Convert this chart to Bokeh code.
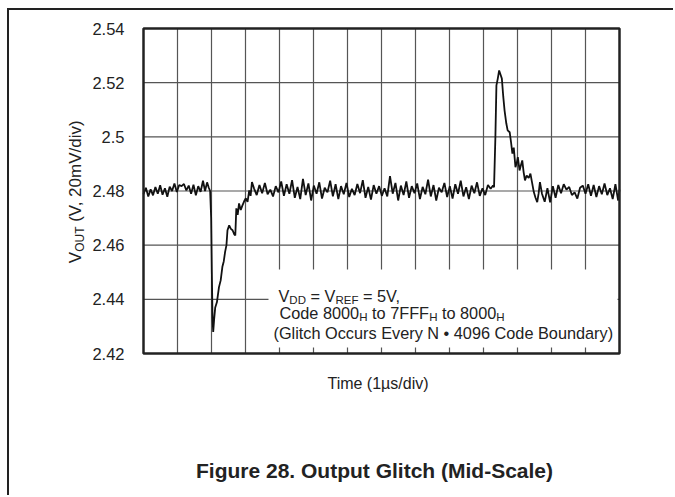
import math
from bokeh.plotting import figure
from bokeh.models import Range1d, FixedTicker, Label
from bokeh.embed import file_html
from bokeh.resources import INLINE

# ---------------- data ----------------
y_ticks = [2.42, 2.44, 2.46, 2.48, 2.50, 2.52, 2.54]
y_tick_labels = ["2.42", "2.44", "2.46", "2.48", "2.5", "2.52", "2.54"]
x_divisions = [0, 1, 2, 3, 4, 5, 6, 7, 8, 9, 10, 11, 12, 13, 14]  # 1 us / div

time_us = [
    0.00, 0.07, 0.14, 0.21, 0.28, 0.35, 0.42, 0.49, 0.56, 0.63, 0.70, 0.77, 0.84, 0.91, 0.98,
    1.05, 1.12, 1.19, 1.26, 1.33, 1.40, 1.47, 1.54, 1.61, 1.68, 1.75, 1.81, 1.87, 1.92,
    1.96, 1.99, 2.01, 2.03, 2.05, 2.08, 2.11, 2.16, 2.22, 2.27, 2.32, 2.36, 2.40, 2.44, 2.47,
    2.52, 2.57, 2.62, 2.67, 2.70, 2.73, 2.77, 2.81, 2.86, 2.91, 2.96, 3.01, 3.06, 3.11, 3.15, 3.19,
    3.25, 3.33, 3.41, 3.49, 3.57, 3.65, 3.73, 3.81, 3.89, 3.97, 4.05, 4.13, 4.21, 4.29, 4.37,
    4.45, 4.53, 4.61, 4.69, 4.77, 4.85, 4.93, 5.01, 5.09, 5.17, 5.25, 5.33, 5.41, 5.49, 5.57,
    5.65, 5.73, 5.81, 5.89, 5.97, 6.05, 6.13, 6.21, 6.29, 6.37, 6.45, 6.53, 6.61, 6.69, 6.77,
    6.85, 6.93, 7.01, 7.09, 7.17, 7.25, 7.33, 7.41, 7.49, 7.57, 7.65, 7.73, 7.81, 7.89, 7.97,
    8.05, 8.13, 8.21, 8.29, 8.37, 8.45, 8.53, 8.61, 8.69, 8.77, 8.85, 8.93, 9.01, 9.09, 9.17,
    9.25, 9.33, 9.41, 9.49, 9.57, 9.65, 9.73, 9.81, 9.89, 9.97, 10.05, 10.13, 10.21,
    10.28, 10.31, 10.35, 10.38, 10.42, 10.46, 10.50, 10.54, 10.58, 10.62, 10.67, 10.71, 10.77,
    10.81, 10.85, 10.89, 10.94, 10.98, 11.01, 11.06, 11.10, 11.14, 11.18, 11.22, 11.27, 11.33,
    11.38, 11.43, 11.48, 11.53, 11.58, 11.62, 11.66,
    11.72, 11.80, 11.88, 11.96, 12.04, 12.12, 12.20, 12.28, 12.36, 12.44, 12.52, 12.60, 12.68,
    12.76, 12.84, 12.92, 13.00, 13.08, 13.16, 13.24, 13.32, 13.40, 13.48, 13.56, 13.64, 13.72,
    13.80, 13.88, 13.96, 14.00,
]

vout = [
    2.4788, 2.4812, 2.4780, 2.4806, 2.4784, 2.4815, 2.4790, 2.4821, 2.4786, 2.4810, 2.4779, 2.4816, 2.4800, 2.4828, 2.4796,
    2.4822, 2.4818, 2.4826, 2.4802, 2.4820, 2.4790, 2.4823, 2.4784, 2.4818, 2.4797, 2.4838, 2.4800, 2.4832, 2.4812,
    2.4800, 2.4700, 2.4500, 2.4330, 2.4280, 2.4330, 2.4370, 2.4390, 2.4445, 2.4470, 2.4520, 2.4540, 2.4575, 2.4600, 2.4655,
    2.4673, 2.4660, 2.4655, 2.4640, 2.4636, 2.4736, 2.4712, 2.4754, 2.4730, 2.4747, 2.4762, 2.4773, 2.4760, 2.4802, 2.4782, 2.4833,
    2.4810, 2.4785, 2.4822, 2.4792, 2.4830, 2.4788, 2.4805, 2.4780, 2.4818, 2.4795, 2.4835, 2.4782, 2.4825, 2.4790, 2.4840,
    2.4775, 2.4815, 2.4770, 2.4845, 2.4785, 2.4828, 2.4765, 2.4820, 2.4790, 2.4832, 2.4772, 2.4812, 2.4795, 2.4838, 2.4780,
    2.4825, 2.4770, 2.4818, 2.4788, 2.4830, 2.4778, 2.4808, 2.4785, 2.4826, 2.4792, 2.4840, 2.4775, 2.4815, 2.4768, 2.4822,
    2.4790, 2.4818, 2.4782, 2.4810, 2.4780, 2.4855, 2.4790, 2.4830, 2.4765, 2.4820, 2.4785, 2.4835, 2.4775, 2.4818, 2.4792,
    2.4828, 2.4770, 2.4815, 2.4788, 2.4842, 2.4780, 2.4822, 2.4765, 2.4812, 2.4795, 2.4830, 2.4778, 2.4818, 2.4772, 2.4825,
    2.4790, 2.4838, 2.4780, 2.4814, 2.4770, 2.4820, 2.4792, 2.4832, 2.4782, 2.4810, 2.4785, 2.4822, 2.4808,
    2.4820, 2.4814, 2.5000, 2.5190, 2.5215, 2.5245, 2.5230, 2.5215, 2.5150, 2.5097, 2.5050, 2.5024, 2.5017,
    2.4980, 2.4938, 2.4960, 2.4888, 2.4905, 2.4925, 2.4876, 2.4895, 2.4913, 2.4870, 2.4839, 2.4857, 2.4848,
    2.4864, 2.4830, 2.4796, 2.4775, 2.4759, 2.4790, 2.4833,
    2.4790, 2.4760, 2.4810, 2.4758, 2.4818, 2.4775, 2.4822, 2.4792, 2.4825, 2.4805, 2.4815, 2.4785, 2.4795,
    2.4772, 2.4812, 2.4820, 2.4790, 2.4825, 2.4782, 2.4822, 2.4778, 2.4818, 2.4788, 2.4828, 2.4785, 2.4810,
    2.4770, 2.4825, 2.4765, 2.4805,
]

x_label_text = "Time (1\u00b5s/div)"
title_text = "Figure 28. Output Glitch (Mid-Scale)"
y_label_parts = [("V", False), ("OUT", True), (" (V, 20mV/div)", False)]
note_line1 = [("V", False), ("DD", True), (" = V", False), ("REF", True), (" = 5V,", False)]
note_line2 = [("Code 8000", False), ("H", True), (" to 7FFF", False), ("H", True), (" to 8000", False), ("H", True)]
note_line3 = "(Glitch Occurs Every N \u2022 4096 Code Boundary)"

# ---------------- layout constants ----------------
FONT = "Liberation Sans"
INK = "#222222"
X0, X1 = x_divisions[0], x_divisions[-1]
Y0, Y1 = y_ticks[0], y_ticks[-1]
# where the chart box sits on the page (pixels)
BOX_L, BOX_R, BOX_T, BOX_B = 143, 619, 28, 353
ML, MT, BW = 7, 8, 2            # css margin / border
OX, OY = ML + BW, MT + BW        # canvas origin on page
W, H = 664, 485
AXIS_W = 50
FW, FH = W - AXIS_W, H

SX = (BOX_R - BOX_L) / (X1 - X0)   # px per us
SY = (BOX_B - BOX_T) / (Y1 - Y0)   # px per volt

def px_t(px):
    return X0 + (px - BOX_L) / SX

def py_v(py):
    return Y1 - (py - BOX_T) / SY

x_start = px_t(OX + AXIS_W)
x_end = px_t(OX + W)
y_end = py_v(OY)
y_start = py_v(OY + H)

# Arial / Liberation Sans advance widths (per 1000 em)
AW = {"V": 667, "D": 722, "R": 722, "E": 667, "F": 611, " ": 278, "=": 584, "5": 556,
      ",": 278, "C": 722, "o": 556, "d": 556, "e": 556, "8": 556, "0": 556, "H": 722,
      "t": 278, "7": 556, "O": 778, "U": 722, "T": 611, "(": 333, ")": 333, "2": 556,
      "m": 833, "/": 278, "i": 222, "v": 500}

def tw(s, size):
    return sum(AW.get(c, 556) for c in s) * size / 1000.0

def nb(s):
    return s.replace(" ", "\u00a0")

p = figure(frame_width=FW, frame_height=FH, output_backend="svg", toolbar_location=None,
           x_range=Range1d(x_start, x_end), y_range=Range1d(y_start, y_end),
           x_axis_location=None,
           min_border_left=AXIS_W, min_border_right=0, min_border_top=0, min_border_bottom=0)
p.styles = {"margin-left": f"{ML}px", "margin-top": f"{MT}px",
            "border-left": f"{BW}px solid {INK}", "border-top": f"{BW}px solid {INK}"}
p.background_fill_color = "white"
p.border_fill_color = "white"
p.outline_line_color = None
p.xgrid.grid_line_color = None
p.ygrid.grid_line_color = None

yax = p.yaxis[0]
yax.fixed_location = X0
yax.bounds = (Y0, Y1)
yax.ticker = FixedTicker(ticks=y_ticks)
yax.major_label_overrides = {v: s for v, s in zip(y_ticks, y_tick_labels)}
yax.axis_line_color = None
yax.major_tick_line_color = None
yax.minor_tick_line_color = None
yax.major_tick_out = 0
yax.major_tick_in = 0
yax.major_label_standoff = 19
yax.major_label_text_font = FONT
yax.major_label_text_font_size = "16.5px"
yax.major_label_text_color = INK

GRID = "#555555"
inner_x = x_divisions[1:-1]
inner_y = y_ticks[1:-1]
p.segment(x0=inner_x, y0=[Y0] * len(inner_x), x1=inner_x, y1=[Y1] * len(inner_x),
          line_color=GRID, line_width=1.2)
p.segment(x0=[X0] * len(inner_y), y0=inner_y, x1=[X1] * len(inner_y), y1=inner_y,
          line_color=GRID, line_width=1.2)

# white note box that hides the grid behind the text
p.quad(left=[px_t(268)], right=[px_t(617)], top=[py_v(269)], bottom=[py_v(347)],
       fill_color="white", line_color=None)

p.line(time_us, vout, line_color="#111111", line_width=1.8)

# chart box outline
p.quad(left=[X0], right=[X1], bottom=[Y0], top=[Y1], fill_color=None,
       line_color=INK, line_width=2.5)

def add_parts(parts, t0, v0, size, sub_size, sub_drop):
    cum = 0.0
    for txt, sub in parts:
        fs = sub_size if sub else size
        p.add_layout(Label(x=t0 + cum / SX, y=v0 - (sub_drop / SY if sub else 0.0), text=nb(txt),
                           text_font=FONT, text_font_size=f"{fs}px", text_color=INK,
                           text_align="left", text_baseline="alphabetic"))
        cum += tw(txt, fs)

NS = 16.3
add_parts(note_line1, px_t(278), py_v(295), NS, 11.5, 4)
add_parts(note_line2, px_t(279), py_v(312), NS, 11.5, 4)
p.add_layout(Label(x=px_t(273), y=py_v(332), text=note_line3, text_font=FONT,
                   text_font_size=f"{NS}px", text_color=INK, text_align="left",
                   text_baseline="alphabetic"))

# rotated y label (V with subscript OUT)
ysz, ysub = 17, 12
ylen = sum(tw(t, ysub if s else ysz) for t, s in y_label_parts)
start_v = (Y0 + Y1) / 2 - (ylen / 2) / SY
cum = 0.0
for txt, sub in y_label_parts:
    fs = ysub if sub else ysz
    p.add_layout(Label(x=px_t(75) + (4 / SX if sub else 0.0), y=start_v + cum / SY, text=nb(txt),
                       angle=math.pi / 2, text_font=FONT, text_font_size=f"{fs}px",
                       text_color=INK, text_align="left", text_baseline="alphabetic"))
    cum += tw(txt, fs)

p.add_layout(Label(x=px_t(377.5), y=py_v(383), text=x_label_text, text_font=FONT,
                   text_font_size="16px", text_color=INK, text_align="center",
                   text_baseline="alphabetic"))
p.add_layout(Label(x=px_t(374), y=py_v(470), text=title_text, text_font=FONT,
                   text_font_size="21px", text_font_style="bold", text_color=INK,
                   text_align="center", text_baseline="alphabetic"))

open("out.html", "w").write(file_html(p, INLINE))
